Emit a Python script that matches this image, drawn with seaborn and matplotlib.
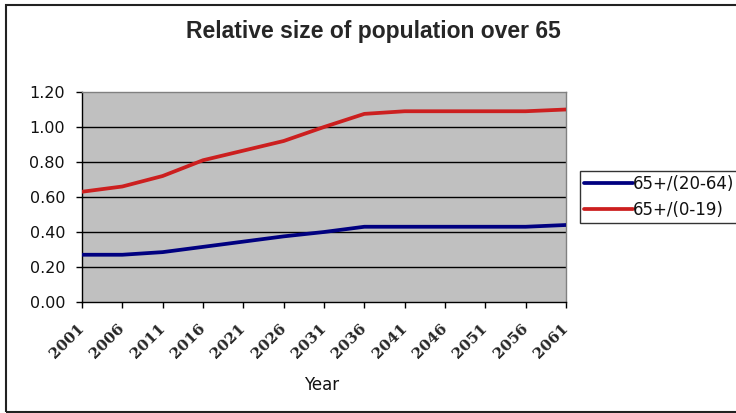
import matplotlib
matplotlib.use("Agg")
import matplotlib.pyplot as plt
import matplotlib.transforms as mtransforms
import seaborn as sns
import pandas as pd
from matplotlib.patches import Rectangle

years = [2001, 2006, 2011, 2016, 2021, 2026, 2031, 2036, 2041, 2046, 2051, 2056, 2061]
ratio_working = [0.27, 0.27, 0.285, 0.315, 0.345, 0.375, 0.40, 0.43, 0.43, 0.43, 0.43, 0.43, 0.44]
ratio_young = [0.63, 0.66, 0.72, 0.81, 0.865, 0.92, 1.00, 1.075, 1.09, 1.09, 1.09, 1.09, 1.10]
series_names = ["65+/(20-64)", "65+/(0-19)"]
y_ticks = [0.0, 0.2, 0.4, 0.6, 0.8, 1.0, 1.2]

df = pd.DataFrame({
    "Year": years * 2,
    "value": ratio_working + ratio_young,
    "series": [series_names[0]] * len(years) + [series_names[1]] * len(years),
})

sns.set_theme(style="white")
plt.rcParams["font.family"] = ["DejaVu Sans"]

LINE_COLORS = ["#000080", "#CC1F1F"]
W, H = 736, 413
fig = plt.figure(figsize=(W / 100, H / 100), dpi=100)
ax = fig.add_axes([82 / W, 1 - 302 / H, (566 - 82) / W, (302 - 92) / H])

sns.lineplot(data=df, x="Year", y="value", hue="series",
             palette=LINE_COLORS, linewidth=2.7, ax=ax, legend=False, zorder=3)

ax.set_facecolor("#C0C0C0")
ax.set_xlim(years[0], years[-1])
ax.set_ylim(0, 1.2)
ax.set_yticks(y_ticks)
ax.set_yticklabels([f"{v:.2f}" for v in y_ticks], fontsize=11.5, color="#111111")
ax.set_xticks(years)
ax.set_xticklabels([str(y) for y in years], rotation=45, ha="right", va="center",
                   rotation_mode="anchor", fontsize=11, fontweight="bold",
                   family="DejaVu Serif")
shift = mtransforms.ScaledTranslation(-13 / 100, 0, fig.dpi_scale_trans)
for lbl in ax.get_xticklabels():
    lbl.set_transform(lbl.get_transform() + shift)

for v in y_ticks[1:-1]:
    ax.axhline(v, color="black", linewidth=1.0, zorder=1)
ax.tick_params(axis="both", which="both", direction="out", length=4.3,
               width=1, color="black", left=True, bottom=True)
ax.tick_params(axis="x", pad=13)
ax.tick_params(axis="y", pad=7.9)
for side in ["top", "right"]:
    ax.spines[side].set_color("#808080")
    ax.spines[side].set_linewidth(1.0)
for side in ["left", "bottom"]:
    ax.spines[side].set_color("black")
    ax.spines[side].set_linewidth(1.0)

ax.set_ylabel("")
ax.set_xlabel("")
fig.text(322 / W, 1 - 385 / H, "Year", ha="center", va="center", fontsize=12,
         color="#111111")

fig.text(373 / W, 1 - 38 / H, "Relative size of population over 65",
         ha="center", va="baseline", fontsize=16.5, fontweight="bold",
         family="Liberation Sans")

# outer chart border
fig.patches.append(Rectangle((6 / W, 1 - 412 / H), (760 - 6) / W, (412 - 5) / H,
                             transform=fig.transFigure, fill=False,
                             edgecolor="#222222", linewidth=1.5))

# legend box
handles = [plt.Line2D([], [], color=c, linewidth=2.7) for c in LINE_COLORS]
leg = fig.legend(handles, series_names, loc="upper left",
                 bbox_to_anchor=(580 / W, 1 - 171 / H), fontsize=12,
                 frameon=True, fancybox=False, edgecolor="black",
                 handlelength=2.9, handletextpad=0.0, borderpad=0.25,
                 labelspacing=0.45, borderaxespad=0)
leg.get_frame().set_linewidth(1.0)
for t in leg.get_texts():
    t.set_color("#111111")

fig.savefig("out.png", dpi=100, facecolor="white")
